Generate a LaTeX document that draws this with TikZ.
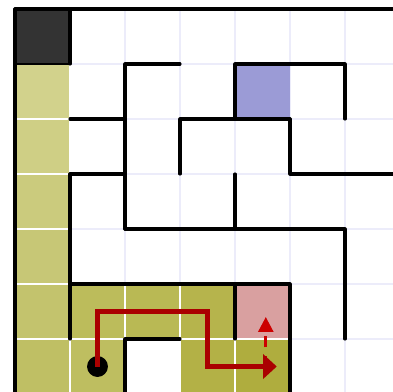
\documentclass[tikz,border=0pt]{standalone}
\usetikzlibrary{arrows.meta}
\definecolor{gridc}{HTML}{ECECFA}
\definecolor{darkc}{HTML}{333333}
\definecolor{purc}{HTML}{9B9BD6}
\definecolor{pinkc}{HTML}{D9A0A0}
\definecolor{pathc}{HTML}{AA0000}
\definecolor{dashc}{HTML}{CC0000}
\definecolor{oa}{HTML}{D2D28C}
\definecolor{ob}{HTML}{CFCF85}
\definecolor{oc}{HTML}{CBCB7D}
\definecolor{od}{HTML}{C7C776}
\definecolor{oe}{HTML}{C3C36D}
\definecolor{of}{HTML}{BFBF64}
\definecolor{og}{HTML}{BCBC5B}
\definecolor{oh}{HTML}{BEBE60}
\definecolor{oi}{HTML}{B9B954}
\definecolor{oj}{HTML}{B6B44C}
\definecolor{ok}{HTML}{B3B146}
\definecolor{ol}{HTML}{AFAD3E}
\tikzset{
  cellbox/.style={draw=white, line width=1.2pt},
  wall/.style={draw=black, line width=1.6pt, line cap=round, line join=round},
  gridline/.style={draw=gridc, line width=0.9pt},
  walkpath/.style={draw=pathc, line width=2.2pt},
  probe/.style={draw=dashc, line width=1.4pt, dash pattern=on 0.2cm off 0.15cm},
}
\begin{document}
\begin{tikzpicture}
\useasboundingbox[fill=white] (-0.2727,0.1636) rectangle (6.8727,-6.9455);
\begin{scope}
\clip (-0.2727,0.1636) rectangle (6.8727,-6.9455);
% light grid
\foreach \i in {0,...,7} {
  \draw[gridline] (\i,0) -- (\i,-7);
  \draw[gridline] (0,-\i) -- (7,-\i);
}
% coloured cells
\filldraw[cellbox, fill=oa] (0,-1) rectangle (1,-2);
\filldraw[cellbox, fill=ob] (0,-2) rectangle (1,-3);
\filldraw[cellbox, fill=oc] (0,-3) rectangle (1,-4);
\filldraw[cellbox, fill=od] (0,-4) rectangle (1,-5);
\filldraw[cellbox, fill=oe] (0,-5) rectangle (1,-6);
\filldraw[cellbox, fill=of] (0,-6) rectangle (1,-7);
\filldraw[cellbox, fill=og] (1,-5) rectangle (2,-6);
\filldraw[cellbox, fill=oh] (1,-6) rectangle (2,-7);
\filldraw[cellbox, fill=oi] (2,-5) rectangle (3,-6);
\filldraw[cellbox, fill=oj] (3,-5) rectangle (4,-6);
\filldraw[cellbox, fill=ok] (3,-6) rectangle (4,-7);
\filldraw[cellbox, fill=ol] (4,-6) rectangle (5,-7);
\filldraw[cellbox, fill=pinkc] (4,-5) rectangle (5,-6);
\fill[fill=purc] (4,-1) rectangle (5,-2);
\filldraw[fill=darkc, draw=black, line width=1.2pt] (0,0) rectangle (1,-1);
% walls
\draw[wall] (0,0) -- (7,0);
\draw[wall] (0,0) -- (0,-7);
\draw[wall] (1,0) -- (1,-1);
\draw[wall] (2,-4) -- (2,-1) -- (3,-1);
\draw[wall] (1,-2) -- (2,-2);
\draw[wall] (1,-3) -- (2,-3);
\draw[wall] (3,-3) -- (3,-2) -- (5,-2);
\draw[wall] (4,-2) -- (4,-1) -- (6,-1) -- (6,-2);
\draw[wall] (5,-2) -- (5,-3) -- (7,-3);
\draw[wall] (4,-3) -- (4,-4);
\draw[wall] (2,-4) -- (6,-4) -- (6,-6);
\draw[wall] (1,-3) -- (1,-6);
\draw[wall] (1,-5) -- (5,-5) -- (5,-7);
\draw[wall] (4,-5) -- (4,-6);
\draw[wall] (2,-7) -- (2,-6) -- (3,-6);
% path
\coordinate (start) at (1.5,-6.5);
\coordinate (p1) at (1.5,-5.5);
\coordinate (p2) at (3.5,-5.5);
\coordinate (p3) at (3.5,-6.5);
\coordinate (goal) at (4.76,-6.5);
\coordinate (pa) at (4.56,-6.5);
\coordinate (pb) at (4.56,-5.6);
\draw[probe, -{Triangle[width=0.27cm,length=0.27cm]}] (pa) -- (pb);
\fill[black] (start) circle (0.19);
\draw[walkpath, -{Triangle[width=0.44cm,length=0.25cm]}] (start) -- (p1) -- (p2) -- (p3) -- (goal);
\end{scope}
\end{tikzpicture}
\end{document}
